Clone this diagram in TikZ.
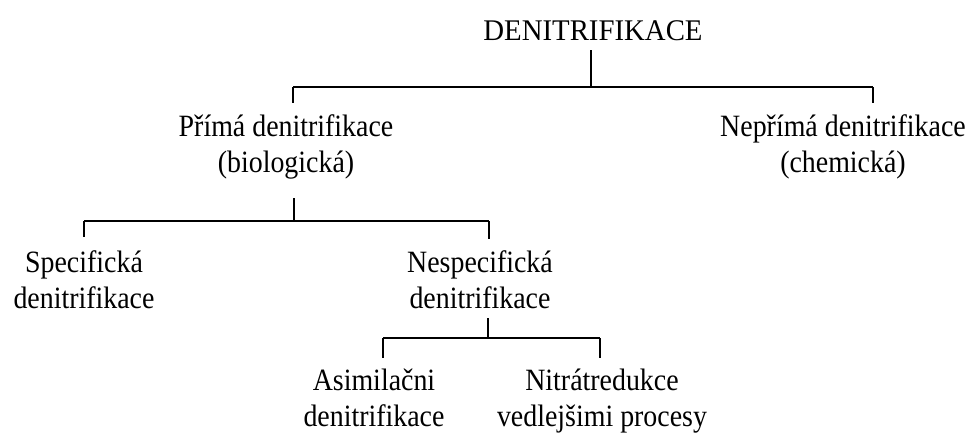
\documentclass[tikz,border=0pt]{standalone}
\usepackage{fontspec}
\setmainfont{Liberation Serif}
\newfontfamily\condserif[FakeStretch=0.9]{Liberation Serif}
\newfontfamily\rootserif[FakeStretch=0.96]{Liberation Serif}
\begin{document}
\begin{tikzpicture}[x=1pt,y=-1pt,
  lbl/.style={inner sep=0pt,anchor=base,align=center,font=\condserif\fontsize{31}{36}\selectfont},
  tree/.style={line width=1.4pt,black}]
\useasboundingbox[fill=white] (0,0) rectangle (970,434);
% nodes (base anchor = baseline of the last line)
\node[lbl,font=\rootserif\fontsize{30}{36}\selectfont] (root) at (593,40) {DENITRIFIKACE};
\node[lbl] (prima) at (286,172) {Přímá denitrifikace\\(biologická)};
\node[lbl] (neprima) at (843,172) {Nepřímá denitrifikace\\(chemická)};
\node[lbl] (spec) at (84,308) {Specifická\\denitrifikace};
\node[lbl] (nespec) at (480,308) {Nespecifická\\denitrifikace};
\node[lbl] (asim) at (374,426) {Asimilačni\\denitrifikace};
\node[lbl] (nitr) at (602,426) {Nitrátredukce\\vedlejšimi procesy};
% junctions
\coordinate (j1) at (591,87);
\coordinate (j1l) at (293,87);
\coordinate (j1r) at (873,87);
\coordinate (j2) at (294,221);
\coordinate (j2l) at (84,221);
\coordinate (j2r) at (489,221);
\coordinate (j3) at (488,338);
\coordinate (j3l) at (383,338);
\coordinate (j3r) at (600,338);
% connectors
\draw[tree] (j1) -- ++(0,-37);
\draw[tree] (j1l) -- (j1r);
\draw[tree] (j1l) -- ++(0,16);
\draw[tree] (j1r) -- ++(0,16);
\draw[tree] (j2) -- ++(0,-23);
\draw[tree] (j2l) -- (j2r);
\draw[tree] (j2l) -- ++(0,16);
\draw[tree] (j2r) -- ++(0,18);
\draw[tree] (j3) -- ++(0,-20);
\draw[tree] (j3l) -- (j3r);
\draw[tree] (j3l) -- ++(0,20);
\draw[tree] (j3r) -- ++(0,20);
\end{tikzpicture}
\end{document}
